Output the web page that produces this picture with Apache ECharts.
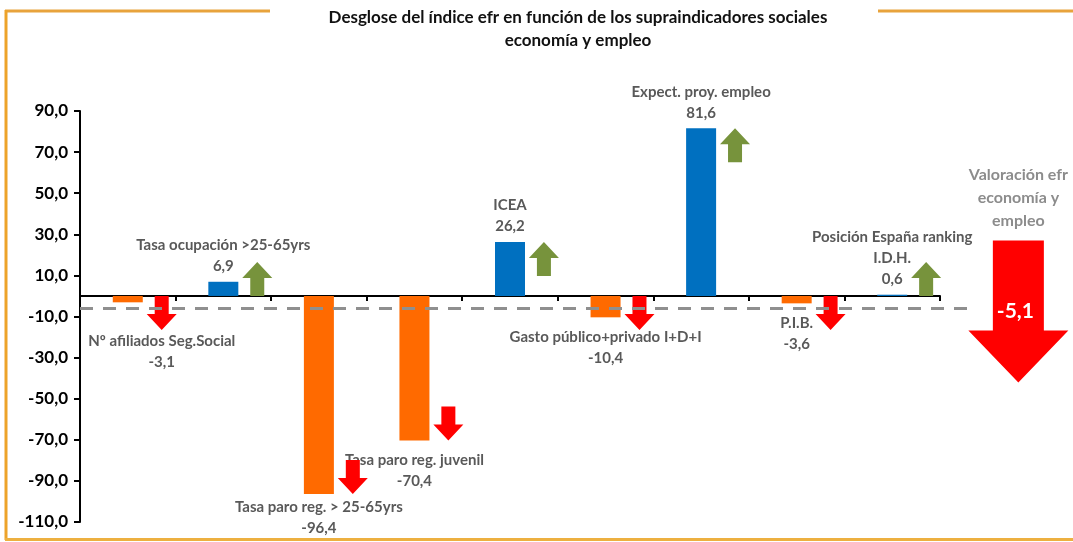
<!DOCTYPE html>
<html>
<head>
<meta charset="utf-8">
<title>Desglose del índice efr</title>
<script src="https://cdn.jsdelivr.net/npm/echarts@6/dist/echarts.min.js"></script>
<style>
html, body { margin: 0; padding: 0; background: #fff; }
#chart { width: 1073px; height: 542px; }
</style>
</head>
<body>
<div id="chart"></div>
<script>
// datos del gráfico
var categorias = [
  'Nº afiliados Seg.Social',
  'Tasa ocupación >25-65yrs',
  'Tasa paro reg. > 25-65yrs',
  'Tasa paro reg. juvenil',
  'ICEA',
  'Gasto público+privado I+D+I',
  'Expect. proy. empleo',
  'P.I.B.',
  'Posición España ranking\nI.D.H.'
];
var valores = [-3.1, 6.9, -96.4, -70.4, 26.2, -10.4, 81.6, -3.6, 0.6];
var valoracionTotal = -5.1;
var valoracionTexto = 'Valoración efr\neconomía y\nempleo';
var ticksY = [-110, -90, -70, -50, -30, -10, 10, 30, 50, 70, 90];

// colores
var NARANJA = '#FF6A00', AZUL = '#0070C0', ROJO = '#FF0000', VERDE = '#77933C';
var FUENTE = 'Lato';

function fmt(v) { return v.toFixed(1).replace('.', ','); }

// pequeños ajustes de etiqueta (x, y) por índice
var ajusteEtiqueta = { 0: [34, 19], 2: [0, -6] };

var datosBarras = valores.map(function (v, i) {
  var neg = v < 0;
  return {
    value: v,
    itemStyle: { color: neg ? NARANJA : AZUL },
    label: {
      position: neg ? 'bottom' : 'top',
      distance: neg ? 9 : 5,
      offset: ajusteEtiqueta[i] || [0, 0]
    }
  };
});

var myChart = echarts.init(document.getElementById('chart'));

var option = {
  animation: false,
  backgroundColor: '#fff',
  title: {
    text: 'Desglose del índice efr en función de los supraindicadores sociales\neconomía y empleo',
    left: 573,
    top: 1,
    textAlign: 'center',
    textStyle: { fontFamily: FUENTE, fontWeight: 'bold', fontSize: 17, lineHeight: 23, color: '#111' }
  },
  // marco naranja
  graphic: [
    { type: 'line', shape: { x1: 5, y1: 11, x2: 270, y2: 11 }, style: { stroke: '#E8A33C', lineWidth: 3 } },
    { type: 'line', shape: { x1: 878, y1: 11, x2: 1073, y2: 11 }, style: { stroke: '#E8A33C', lineWidth: 3 } },
    { type: 'line', shape: { x1: 6, y1: 10, x2: 6, y2: 540 }, style: { stroke: '#EDA32A', lineWidth: 3 } },
    { type: 'line', shape: { x1: 5, y1: 539.5, x2: 1073, y2: 539.5 }, style: { stroke: '#EDB040', lineWidth: 3 } }
  ],
  grid: { left: 80, right: 133, top: 111, bottom: 20 },
  xAxis: {
    type: 'category',
    data: categorias,
    axisLine: { onZero: true, lineStyle: { color: '#000', width: 2 } },
    axisTick: { show: true, interval: 0, length: 5, lineStyle: { color: '#000', width: 2 } },
    axisLabel: { show: false, interval: 0 },
    splitLine: { show: false }
  },
  yAxis: {
    type: 'value',
    min: ticksY[0],
    max: ticksY[ticksY.length - 1],
    interval: ticksY[1] - ticksY[0],
    axisLine: { show: true, lineStyle: { color: '#000', width: 2 } },
    axisTick: { show: true, length: 6, lineStyle: { color: '#000', width: 2 } },
    axisLabel: {
      margin: 12,
      formatter: function (v) { return fmt(v); },
      fontFamily: FUENTE, fontWeight: 'bold', fontSize: 17, color: '#000'
    },
    splitLine: { show: false }
  },
  series: [
    {
      name: 'índice',
      type: 'bar',
      barWidth: 30,
      data: datosBarras,
      label: {
        show: true,
        formatter: function (p) {
          var lineas = categorias[p.dataIndex].split('\n').map(function (t) { return '{n|' + t + '}'; });
          lineas.push('{n|' + fmt(valores[p.dataIndex]) + '}');
          return lineas.join('\n');
        },
        rich: {
          n: { fontFamily: FUENTE, fontWeight: 'bold', fontSize: 15, color: '#595959', lineHeight: 21, align: 'center' }
        }
      },
      z: 3
    },
    {
      // flechas de tendencia junto a cada barra
      name: 'flechas',
      type: 'custom',
      data: valores.map(function (v, i) { return [i, v]; }),
      renderItem: function (params, api) {
        var v = api.value(1);
        var base = api.coord([api.value(0), 0]);
        var fin = api.coord([api.value(0), v])[1];
        var band = api.size([1, 0])[0];
        var cx = base[0] + band * 0.355;
        var L = 34, head = 16, hw = 15, sw = 7;
        var pts;
        if (v >= 0) {
          var tip = Math.min(fin, base[1] - L);
          pts = [[cx, tip], [cx + hw, tip + head], [cx + sw, tip + head], [cx + sw, tip + L],
                 [cx - sw, tip + L], [cx - sw, tip + head], [cx - hw, tip + head]];
        } else {
          var tipD = Math.max(fin, base[1] + L);
          pts = [[cx, tipD], [cx + hw, tipD - head], [cx + sw, tipD - head], [cx + sw, tipD - L],
                 [cx - sw, tipD - L], [cx - sw, tipD - head], [cx - hw, tipD - head]];
        }
        return { type: 'polygon', shape: { points: pts }, style: { fill: v >= 0 ? VERDE : ROJO } };
      },
      z: 4
    },
    {
      // valoración global: línea discontinua + flecha grande
      name: 'valoración',
      type: 'custom',
      clip: false,
      data: [[categorias.length - 1, valoracionTotal]],
      renderItem: function (params, api) {
        var p = api.coord([api.value(0), api.value(1)]);
        var band = api.size([1, 0])[0];
        var izq = api.coord([0, 0])[0] - band / 2;
        var cx = p[0] + band * 1.32;
        var y0 = p[1];
        var top = y0 - 66, headY = y0 + 24, tip = y0 + 76;
        return {
          type: 'group',
          children: [
            {
              type: 'line',
              shape: { x1: izq, y1: y0 + 2, x2: cx - 50, y2: y0 + 2 },
              style: { stroke: '#8F8F8F', lineWidth: 3, lineDash: [13, 10] }
            },
            {
              type: 'polygon',
              shape: { points: [[cx - 25.5, top], [cx + 25.5, top], [cx + 25.5, headY], [cx + 50, headY],
                                [cx, tip], [cx - 50, headY], [cx - 25.5, headY]] },
              style: { fill: ROJO }
            },
            {
              type: 'text',
              style: {
                text: fmt(api.value(1)), x: cx - 3, y: y0 + 5,
                fill: '#fff', font: 'bold 21px ' + FUENTE, align: 'center', verticalAlign: 'middle'
              }
            },
            {
              type: 'text',
              style: {
                text: valoracionTexto, x: cx, y: top - 8,
                fill: '#8C8C8C', font: 'bold 16px ' + FUENTE, lineHeight: 23,
                align: 'center', verticalAlign: 'bottom'
              }
            }
          ]
        };
      },
      z: 5
    }
  ]
};

myChart.clear();
myChart.setOption(option);
window.addEventListener('resize', function () {
  myChart.resize();
});
</script>
</body>
</html>
